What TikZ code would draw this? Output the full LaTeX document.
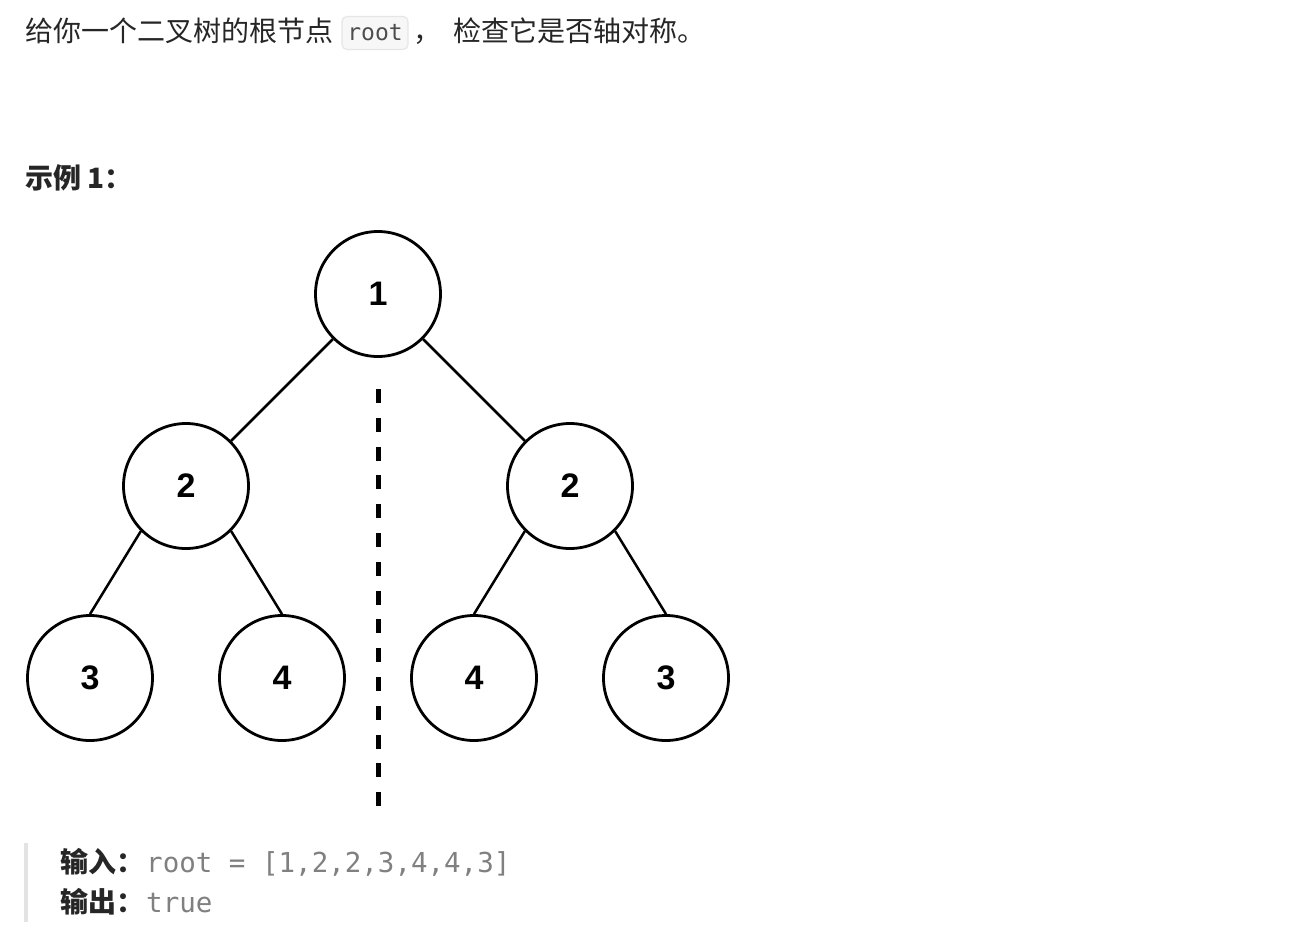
\documentclass[tikz,border=0pt]{standalone}
\usepackage{fontspec}
\usepackage{xcolor}
\usetikzlibrary{positioning}
\setmainfont{Liberation Sans}
\newfontfamily\cjk{Noto Sans CJK SC}
\newfontfamily\codefont{DejaVu Sans Mono}
\definecolor{ink}{HTML}{262626}
\definecolor{codetext}{HTML}{4D4D4D}
\definecolor{codegray}{HTML}{808080}
\definecolor{codebg}{HTML}{F7F7F7}
\definecolor{codeborder}{HTML}{E6E6E6}
\definecolor{quotebar}{HTML}{E3E3E3}

\begin{document}
\begin{tikzpicture}[x=1pt, y=-1pt,
  treenode/.style={circle, draw=black, line width=2.8pt, minimum size=125pt,
    inner sep=0pt, font=\fontsize{34}{34}\selectfont\bfseries},
  branch/.style={line width=2.5pt},
  mirror/.style={line width=5pt, dash pattern=on 14pt off 14.8pt},
  cjktext/.style={anchor=base west, inner sep=0pt, text=ink,
    font=\cjk\fontsize{28}{32}\selectfont},
  cjkbold/.style={cjktext, font=\cjk\bfseries\fontsize{28}{32}\selectfont},
  codetext/.style={anchor=base west, inner sep=0pt, text=codegray,
    font=\codefont\fontsize{27.5}{30}\selectfont}]
  \useasboundingbox[fill=white] (0,0) rectangle (1292,927);
  % Question
  \node[cjktext] (intro) at (25,41) {给你一个二叉树的根节点};
  \node[draw=codeborder, fill=codebg, rounded corners=5pt, line width=1.2pt,
    minimum width=66pt, minimum height=33pt, inner sep=0pt, text=codetext,
    font=\codefont\fontsize{23}{23}\selectfont] (code) at (375,33) {root};
  \node[cjktext] (comma) at (413,41) {，};
  \node[cjktext] (rest) at (453,41) {检查它是否轴对称。};
  \node[cjkbold] (example) at (25,188) {示例 1：};
  % Tree
  \node[treenode] (n1) at (378,294) {1};
  \node[treenode] (l2) at (186,486) {2};
  \node[treenode] (r2) at (570,486) {2};
  \node[treenode] (l3) at (90,678) {3};
  \node[treenode] (l4) at (282,678) {4};
  \node[treenode] (r4) at (474,678) {4};
  \node[treenode] (r3) at (666,678) {3};
  \draw[branch] (n1.south west) -- (l2.north east);
  \draw[branch] (n1.south east) -- (r2.north west);
  \draw[branch] (l2.south west) -- (l3.north);
  \draw[branch] (l2.south east) -- (l4.north);
  \draw[branch] (r2.south west) -- (r4.north);
  \draw[branch] (r2.south east) -- (r3.north);
  % Symmetry axis
  \coordinate (axtop) at (378,389);
  \coordinate (axbot) at (378,806);
  \draw[mirror] (axtop) -- (axbot);
  % Example block
  \fill[quotebar] (24,843) rectangle (28,922);
  \node[cjkbold] (inlabel) at (60,872) {输入：};
  \node[codetext] (inval) at (146,872) {root = [1,2,2,3,4,4,3]};
  \node[cjkbold] (outlabel) at (60,912) {输出：};
  \node[codetext] (outval) at (146,912) {true};
\end{tikzpicture}
\end{document}
